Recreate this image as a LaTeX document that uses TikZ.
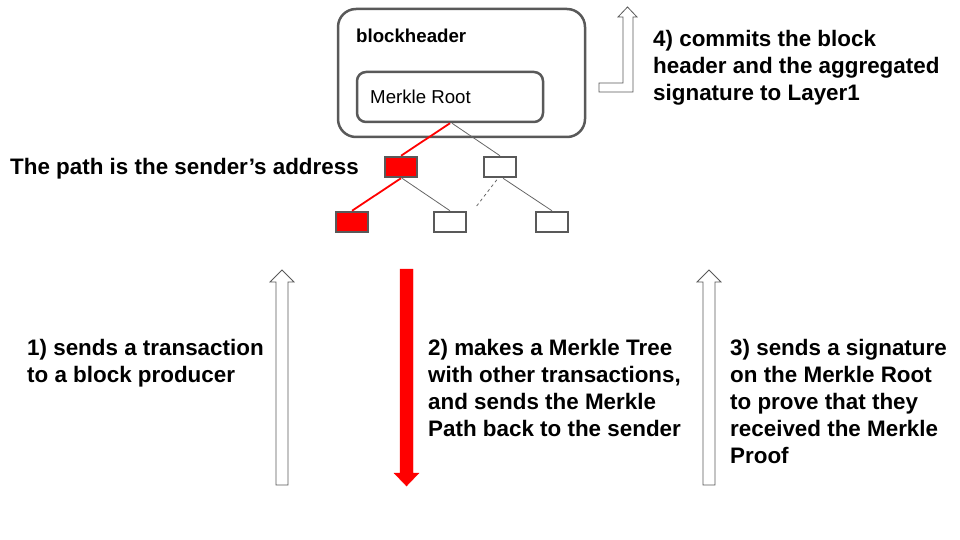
\documentclass[tikz,border=0pt]{standalone}
\definecolor{BoxGray}{RGB}{89,89,89}
\definecolor{LineGray}{RGB}{102,102,102}
\definecolor{PathRed}{RGB}{255,0,0}
\usepackage{fontspec}
\setmainfont{Liberation Sans}
\usepackage{tikz}
\usetikzlibrary{positioning, shapes, arrows.meta, fit, backgrounds, calc}

\begin{document}
\begin{tikzpicture}[x=1pt, y=-1pt,
  label/.style={font=\bfseries\fontsize{22.4}{27}\selectfont, inner sep=0pt, align=left},
  leaf/.style={draw=BoxGray, line width=2.5pt, minimum width=32pt, minimum height=20pt, inner sep=0pt},
  twig/.style={LineGray, line width=0.8pt},
  redtwig/.style={PathRed, line width=1.8pt},
  hollow/.style={draw=BoxGray, line width=0.8pt, fill=white, line join=miter}]
\useasboundingbox (0,0) rectangle (960,540);

% block header with the merkle root
\node[draw=BoxGray, line width=2.5pt, rounded corners=18pt, minimum width=247pt, minimum height=128pt] (header) at (461.5,73) {};
\node[anchor=base west, inner sep=0pt, font=\bfseries\fontsize{18.67}{22}\selectfont] (headertxt) at (356,43) {blockheader};
\node[draw=BoxGray, line width=2.5pt, rounded corners=9pt, minimum width=186pt, minimum height=50pt] (root) at (450,97) {};
\node[anchor=base west, inner sep=0pt, font=\fontsize{18.67}{22}\selectfont] (roottxt) at (370,104) {Merkle Root};

% the merkle tree
\node[leaf, fill=PathRed] (l1) at (401,167) {};
\node[leaf, fill=white] (r1) at (500,167) {};
\node[leaf, fill=PathRed] (l2) at (352,222) {};
\node[leaf, fill=white] (m2) at (450,222) {};
\node[leaf, fill=white] (r2) at (552,222) {};
\draw[twig] ([xshift=2pt]root.south) -- (r1.north);
\draw[twig] ([xshift=1pt]l1.south) -- (m2.north);
\draw[twig] ([xshift=3pt]r1.south) -- (r2.north);
\draw[twig, dashed, shorten <=2pt, shorten >=6pt] ([xshift=-2pt]r1.south) -- ([xshift=23pt]m2.north);
\draw[redtwig] (root.south) -- (l1.north);
\draw[redtwig] (l1.south) -- (l2.north);
\node[label, anchor=base west] (pathtxt) at (10,175) {The path is the sender’s address};

% block arrows
\draw[hollow] (599,83) -- (623,83) -- (623,17) -- (618,17) -- (627.5,7) -- (637,17) -- (633,17) -- (633,92) -- (599,92) -- cycle;
\draw[hollow] (276,485) -- (276,282) -- (270,282) -- (282,270) -- (294,282) -- (288,282) -- (288,485) -- cycle;
\draw[fill=PathRed, draw=PathRed, line join=miter] (400,269) -- (400,473) -- (394,473) -- (406.5,486) -- (419,473) -- (413,473) -- (413,269) -- cycle;
\draw[hollow] (703,485) -- (703,282) -- (697,282) -- (709,270) -- (721,282) -- (715,282) -- (715,485) -- cycle;

% the steps
\node[label, anchor=north west] (commit) at (653,30) {4) commits the block\\header and the aggregated\\signature to Layer1};
\node[label, anchor=north west] (send) at (27,339) {1) sends a transaction\\to a block producer};
\node[label, anchor=north west] (make) at (428,339) {2) makes a Merkle Tree\\with other transactions,\\and sends the Merkle\\Path back to the sender};
\node[label, anchor=north west] (sign) at (730,339) {3) sends a signature\\on the Merkle Root\\to prove that they\\received the Merkle\\Proof};
\end{tikzpicture}
\end{document}
